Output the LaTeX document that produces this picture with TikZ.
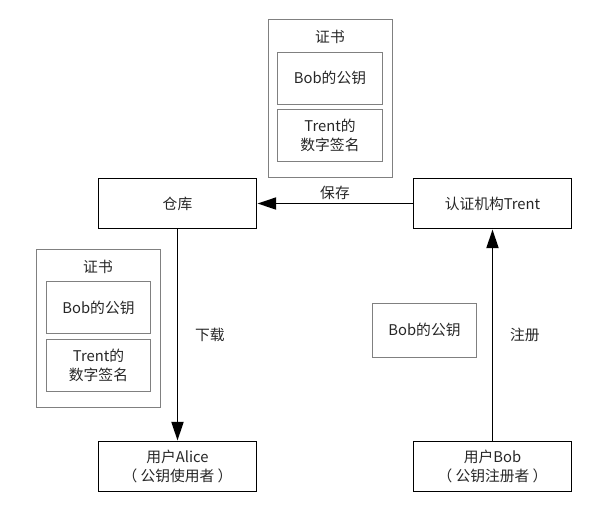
\documentclass[tikz,border=0pt]{standalone}
\usepackage{fontspec}
\setmainfont{Noto Sans CJK SC}
\usepackage{xcolor}
\usepackage{tikz}
\usetikzlibrary{positioning, arrows.meta}

\begin{document}
\begin{tikzpicture}[x=0.025cm, y=-0.025cm,
    box/.style={draw, rectangle, minimum width=3.95cm, minimum height=1.25cm, align=center, line width=1.3pt, text=black!85, font=\fontsize{10.5}{13.5}\selectfont},
    certbox/.style={draw=black!50, rectangle, minimum width=3.1cm, minimum height=3.95cm, line width=0.7pt},
    keybox/.style={draw=black!50, rectangle, minimum width=2.62cm, minimum height=1.3cm, align=center, line width=0.7pt, text=black!85, font=\fontsize{10.5}{13.5}\selectfont},
    lbl/.style={text=black!85, font=\fontsize{10.5}{13.5}\selectfont},
    arrow/.style={-{Triangle[length=0.47cm, width=0.3cm]}, line width=1.3pt}
]
\useasboundingbox (0,0) rectangle (608,516);

% --- MAIN BOXES ---
\node[box] (repo) at (177.5, 203.5) {仓库};
\node[box] (trent) at (492.5, 203.5) {认证机构Trent};
\node[box] (alice) at (177.5, 466.5) {用户Alice\\（ 公钥使用者 ）};
\node[box] (bob) at (492.5, 466.5) {用户Bob\\（ 公钥注册者 ）};

% --- CERTIFICATES ---
\node[certbox] (certtop) at (330.5, 98.5) {};
\node[lbl] (certtoptitle) at (330, 37) {证书};
\node[keybox] (keytop) at (330, 78) {Bob的公钥};
\node[keybox] (signtop) at (330, 135.5) {Trent的\\数字签名};

\node[certbox] (certleft) at (98.5, 328.5) {};
\node[lbl] (certlefttitle) at (98, 267) {证书};
\node[keybox] (keyleft) at (98.5, 307.5) {Bob的公钥};
\node[keybox] (signleft) at (98.5, 365.5) {Trent的\\数字签名};

\node[keybox, minimum height=1.35cm] (bobkey) at (424.5, 330) {Bob的公钥};

% --- FLOW ARROWS ---
\draw[arrow] (trent) -- node[lbl, above=-1pt] {保存} (repo);
\draw[arrow] (repo) -- node[lbl, right=0.3cm] {下载} (alice);
\draw[arrow] (bob) -- node[lbl, right=0.3cm] {注册} (trent);
\end{tikzpicture}
\end{document}
